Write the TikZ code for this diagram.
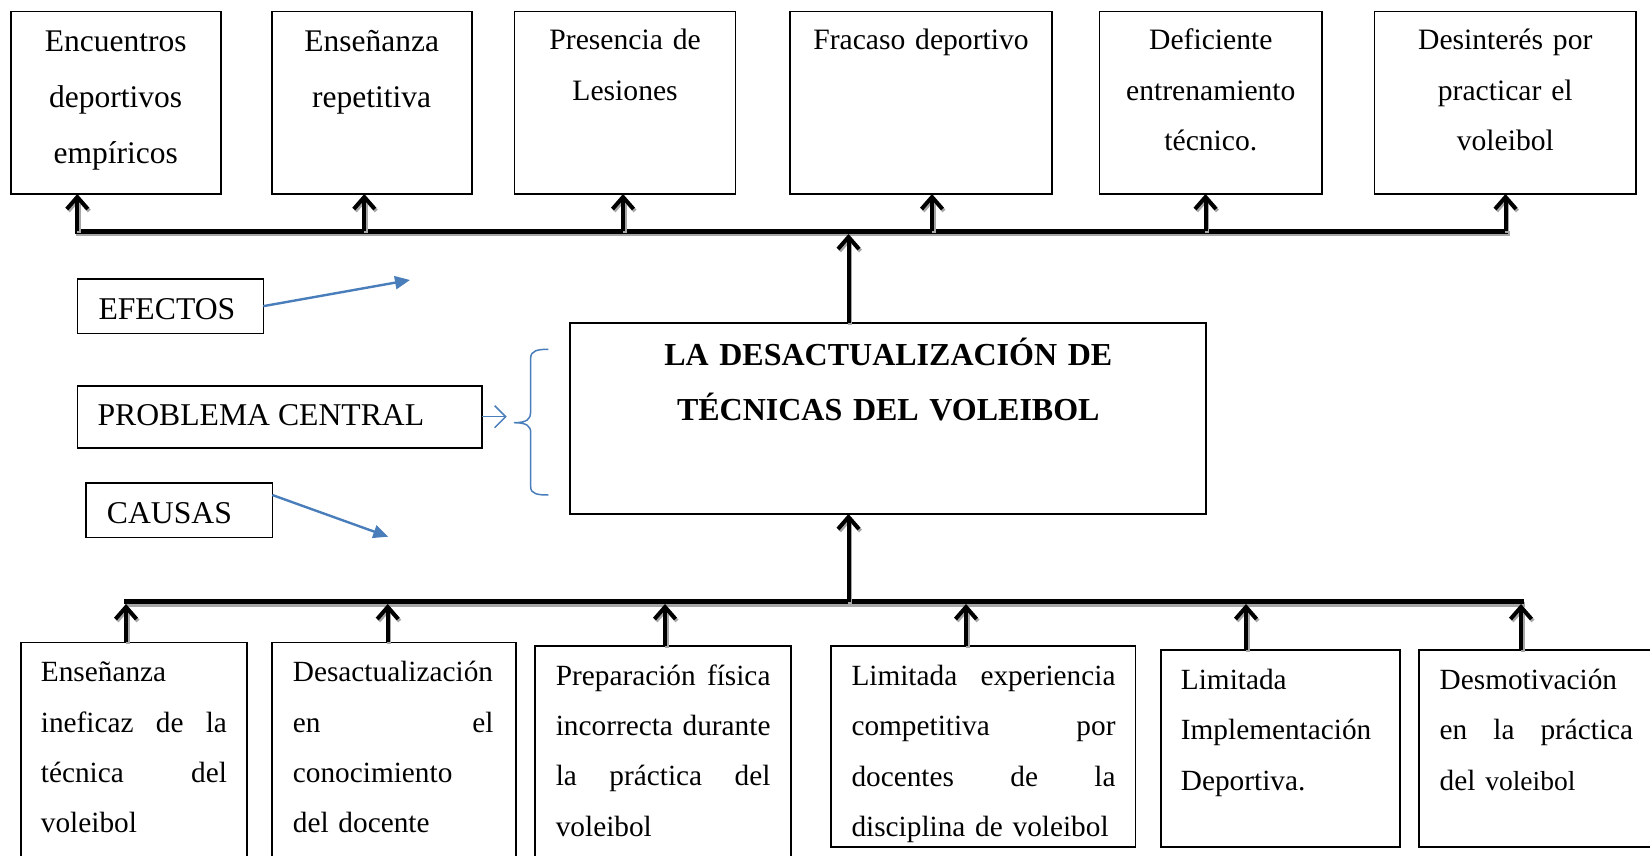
\documentclass[tikz,border=0pt]{standalone}
\usepackage{fontspec}
\setmainfont{Liberation Serif}
\usetikzlibrary{arrows.meta}
\definecolor{wordblue}{HTML}{4A7EBB}
\newcommand\jl[2]{\leavevmode\hbox to #1{#2}}
\begin{document}
\begin{tikzpicture}[x=1pt,y=-1pt,
  box/.style={draw=black, line width=1.6pt, anchor=north west, inner sep=0pt, outer sep=0pt},
  cbox/.style={draw=black, line width=2pt, anchor=north west, inner sep=0pt, outer sep=0pt},
  ttopA/.style={anchor=base, inner sep=0pt, align=center, font=\fontsize{31.5}{56}\selectfont},
  ttopB/.style={anchor=base, inner sep=0pt, align=center, font=\fontsize{29.6}{50.5}\selectfont},
  tbot/.style={anchor=base west, inner sep=0pt, align=left, font=\fontsize{29.3}{50.4}\selectfont},
  lbl/.style={anchor=base west, inner sep=0pt, font=\fontsize{31.7}{40}\selectfont},
  fat/.style={line width=4pt, -{Straight Barb[length=12pt,width=21pt]},
    preaction={draw=black!35, line width=4pt, -{Straight Barb[length=12pt,width=21pt]},
      transform canvas={shift={(1.5pt,-2pt)}}}},
  barline/.style={line width=5pt, line cap=rect,
    preaction={draw=black!35, line width=5pt, line cap=rect,
      transform canvas={shift={(1.5pt,-2.5pt)}}}},
  blu/.style={draw=wordblue, line width=2.4pt},
  thinblu/.style={draw=wordblue, line width=1.5pt}
]
\useasboundingbox (0,0) rectangle (1650,856);

% ---------- top (effects) boxes ----------
\node[box, minimum width=210pt, minimum height=182.3pt] (e1) at (10.7,11.7) {};
\node[box, minimum width=200pt, minimum height=182.3pt] (e2) at (271.7,11.7) {};
\node[box, minimum width=221pt, minimum height=182.3pt] (e3) at (514.6,11.7) {};
\node[box, minimum width=262pt, minimum height=182.3pt] (e4) at (790,11.7) {};
\node[box, minimum width=222.4pt, minimum height=182.3pt] (e5) at (1099.6,11.7) {};
\node[box, minimum width=261.4pt, minimum height=182.3pt] (e6) at (1374.6,11.7) {};

\node[ttopA, text width=200pt] (e1t) at (115.7,51.7) {Encuentros\\deportivos\\empíricos};
\node[ttopA, text width=190pt] (e2t) at (371.7,51.7) {Enseñanza\\repetitiva};
\node[ttopB, text width=210pt] (e3t) at (625.1,50) {Presencia de\\Lesiones};
\node[ttopB, text width=250pt] (e4t) at (921,50) {Fracaso deportivo};
\node[ttopB, text width=212pt] (e5t) at (1210.8,50) {Deficiente\\entrenamiento\\técnico.};
\node[ttopB, text width=250pt] (e6t) at (1505.3,50) {Desinterés por\\practicar el\\voleibol};

% ---------- central problem ----------
\node[cbox, minimum width=636pt, minimum height=191.3pt] (c) at (570,322.7) {};
\node[anchor=base, inner sep=0pt, align=center, text width=600pt,
  font=\bfseries\fontsize{32}{55}\selectfont] (ct) at (888.3,365)
  {LA DESACTUALIZACIÓN DE\\TÉCNICAS DEL VOLEIBOL};

% ---------- left labels ----------
\node[box, minimum width=186pt, minimum height=54.3pt] (ef) at (77.3,279) {};
\node[lbl] (eft) at (98.3,319.3) {EFECTOS};
\node[box, minimum width=404.4pt, minimum height=62pt] (pc) at (77.3,385.7) {};
\node[lbl] (pct) at (97.3,425) {PROBLEMA CENTRAL};
\node[box, minimum width=186.3pt, minimum height=54.6pt] (ca) at (86,482.7) {};
\node[lbl] (cat) at (106.7,523.5) {CAUSAS};

\coordinate (efT) at (410,280);
\coordinate (caT) at (388.3,536.7);
\draw[blu, -{Triangle[length=15pt,width=13pt]}] (ef.east) -- (efT);
\draw[blu, -{Triangle[length=15pt,width=13pt]}] ([yshift=-12.3pt]ca.north east) -- (caT);
\draw[thinblu, -{Straight Barb[length=11pt,width=22pt]}] (pc.east) -- ++(25,0);
\draw[thinblu] (548.3,349.3) .. controls (538,349.3) and (530.7,350.5) .. (530.7,358)
  -- (530.7,412) .. controls (530.7,419) and (527,422.7) .. (514,422.7)
  .. controls (527,422.7) and (530.7,426) .. (530.7,433)
  -- (530.7,487) .. controls (530.7,494) and (538,495) .. (548.3,495);

% ---------- bottom (causes) boxes ----------
\node[box, minimum width=225.7pt, minimum height=240pt] (b1) at (21,642.3) {};
\node[box, minimum width=244.3pt, minimum height=240pt] (b2) at (271.7,642.3) {};
\node[box, minimum width=256pt, minimum height=240pt] (b3) at (535,646) {};
\node[box, minimum width=304.5pt, minimum height=201pt] (b4) at (831,646) {};
\node[box, minimum width=239pt, minimum height=197pt] (b5) at (1161,650) {};
\node[box, minimum width=246pt, minimum height=197pt] (b6) at (1419,650) {};

\node[tbot, text width=186pt] (b1t) at (40.7,681.7)
  {Enseñanza\\ \jl{186pt}{ineficaz\hfill de\hfill la}\\ \jl{186pt}{técnica\hfill del}\\ voleibol};
\node[tbot, text width=200.5pt] (b2t) at (292.7,681.7)
  {Desactualización\\ \jl{200.5pt}{en\hfill el}\\ conocimiento\\ del docente};
\node[tbot, text width=214.7pt] (b3t) at (555.6,685)
  {\jl{214.7pt}{Preparación\hfill física}\\ \jl{214.7pt}{incorrecta\hfill durante}\\ \jl{214.7pt}{la\hfill práctica\hfill del}\\ voleibol};
\begin{scope}
  \clip (831,646) rectangle (1136,845);
  \node[tbot, text width=264pt] (b4t) at (851.3,685.5)
    {\jl{264pt}{Limitada\hfill experiencia}\\ \jl{264pt}{competitiva\hfill por}\\ \jl{264pt}{docentes\hfill de\hfill la}\\ disciplina de voleibol};
\end{scope}
\node[tbot, text width=215pt] (b5t) at (1180.7,689.5)
  {Limitada\\ Implementación\\ Deportiva.};
\node[tbot, text width=193.5pt] (b6t) at (1439.5,689.5)
  {Desmotivación\\ \jl{193.5pt}{en\hfill la\hfill práctica}\\ del {\fontsize{27.5}{50.4}\selectfont voleibol}};

% ---------- top bar and arrows ----------
\coordinate (ta1) at (77.3,231);
\coordinate (ta2) at (364.3,231);
\coordinate (ta3) at (623,231);
\coordinate (ta4) at (932,231);
\coordinate (ta5) at (1205.5,231);
\coordinate (ta6) at (1505.5,231);
\coordinate (tc) at (848.5,234);
\draw[barline] (ta1) -- (ta6);
\draw[fat] (ta1) -- (ta1 |- e1.south);
\draw[fat] (ta2) -- (ta2 |- e2.south);
\draw[fat] (ta3) -- (ta3 |- e3.south);
\draw[fat] (ta4) -- (ta4 |- e4.south);
\draw[fat] (ta5) -- (ta5 |- e5.south);
\draw[fat] (ta6) -- (ta6 |- e6.south);
\draw[fat] (c.north -| tc) -- (tc);

% ---------- bottom bar and arrows ----------
\coordinate (bl) at (126,601.5);
\coordinate (br) at (1521,601.5);
\coordinate (ba1) at (126,604);
\coordinate (ba2) at (387.7,604);
\coordinate (ba3) at (665,604);
\coordinate (ba4) at (966,604);
\coordinate (ba5) at (1246,604);
\coordinate (ba6) at (1521,604);
\coordinate (bc) at (848.5,601.5);
\draw[barline] (bl) -- (br);
\draw[fat] (b1.north -| ba1) -- (ba1);
\draw[fat] (b2.north -| ba2) -- (ba2);
\draw[fat] (b3.north -| ba3) -- (ba3);
\draw[fat] (b4.north -| ba4) -- (ba4);
\draw[fat] (b5.north -| ba5) -- (ba5);
\draw[fat] (b6.north -| ba6) -- (ba6);
\draw[fat] (bc) -- (c.south -| bc);
\end{tikzpicture}
\end{document}
